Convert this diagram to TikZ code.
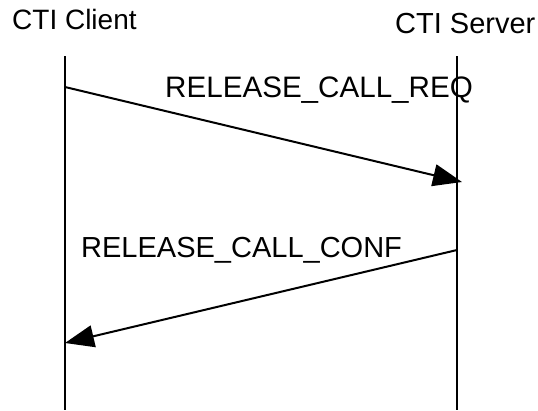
\documentclass[tikz,border=0pt]{standalone}
\usepackage{fontspec}
\setmainfont{Liberation Sans}
\usetikzlibrary{arrows.meta}
\tikzset{
  lbl/.style={anchor=base west, inner sep=0pt, font=\fontsize{29}{34}\selectfont},
  life/.style={line width=2pt},
  msg/.style={line width=2pt, -{Triangle[length=29pt,width=22pt]}},
}
\begin{document}
\begin{tikzpicture}[x=1pt,y=-1pt]
\useasboundingbox (0,0) rectangle (538,410);
\node[lbl, font=\fontsize{28}{33}\selectfont] (client) at (12,29) {CTI Client};
\node[lbl] (server) at (395,33) {CTI Server};
\coordinate (ctop) at (65,56);
\coordinate (cbot) at (65,410);
\coordinate (stop) at (457,56);
\coordinate (sbot) at (457,410);
\draw[life] (ctop) -- (cbot);
\draw[life] (stop) -- (sbot);
\coordinate (m1s) at (65,87);
\coordinate (m1e) at (462,182);
\coordinate (m2s) at (457,250);
\coordinate (m2e) at (65,343);
\draw[msg] (m1s) -- (m1e);
\draw[msg] (m2s) -- (m2e);
\node[lbl, font=\fontsize{29.6}{34}\selectfont] (req) at (165,97) {RELEASE\_CALL\_REQ};
\node[lbl] (conf) at (81,257) {RELEASE\_CALL\_CONF};
\end{tikzpicture}
\end{document}
